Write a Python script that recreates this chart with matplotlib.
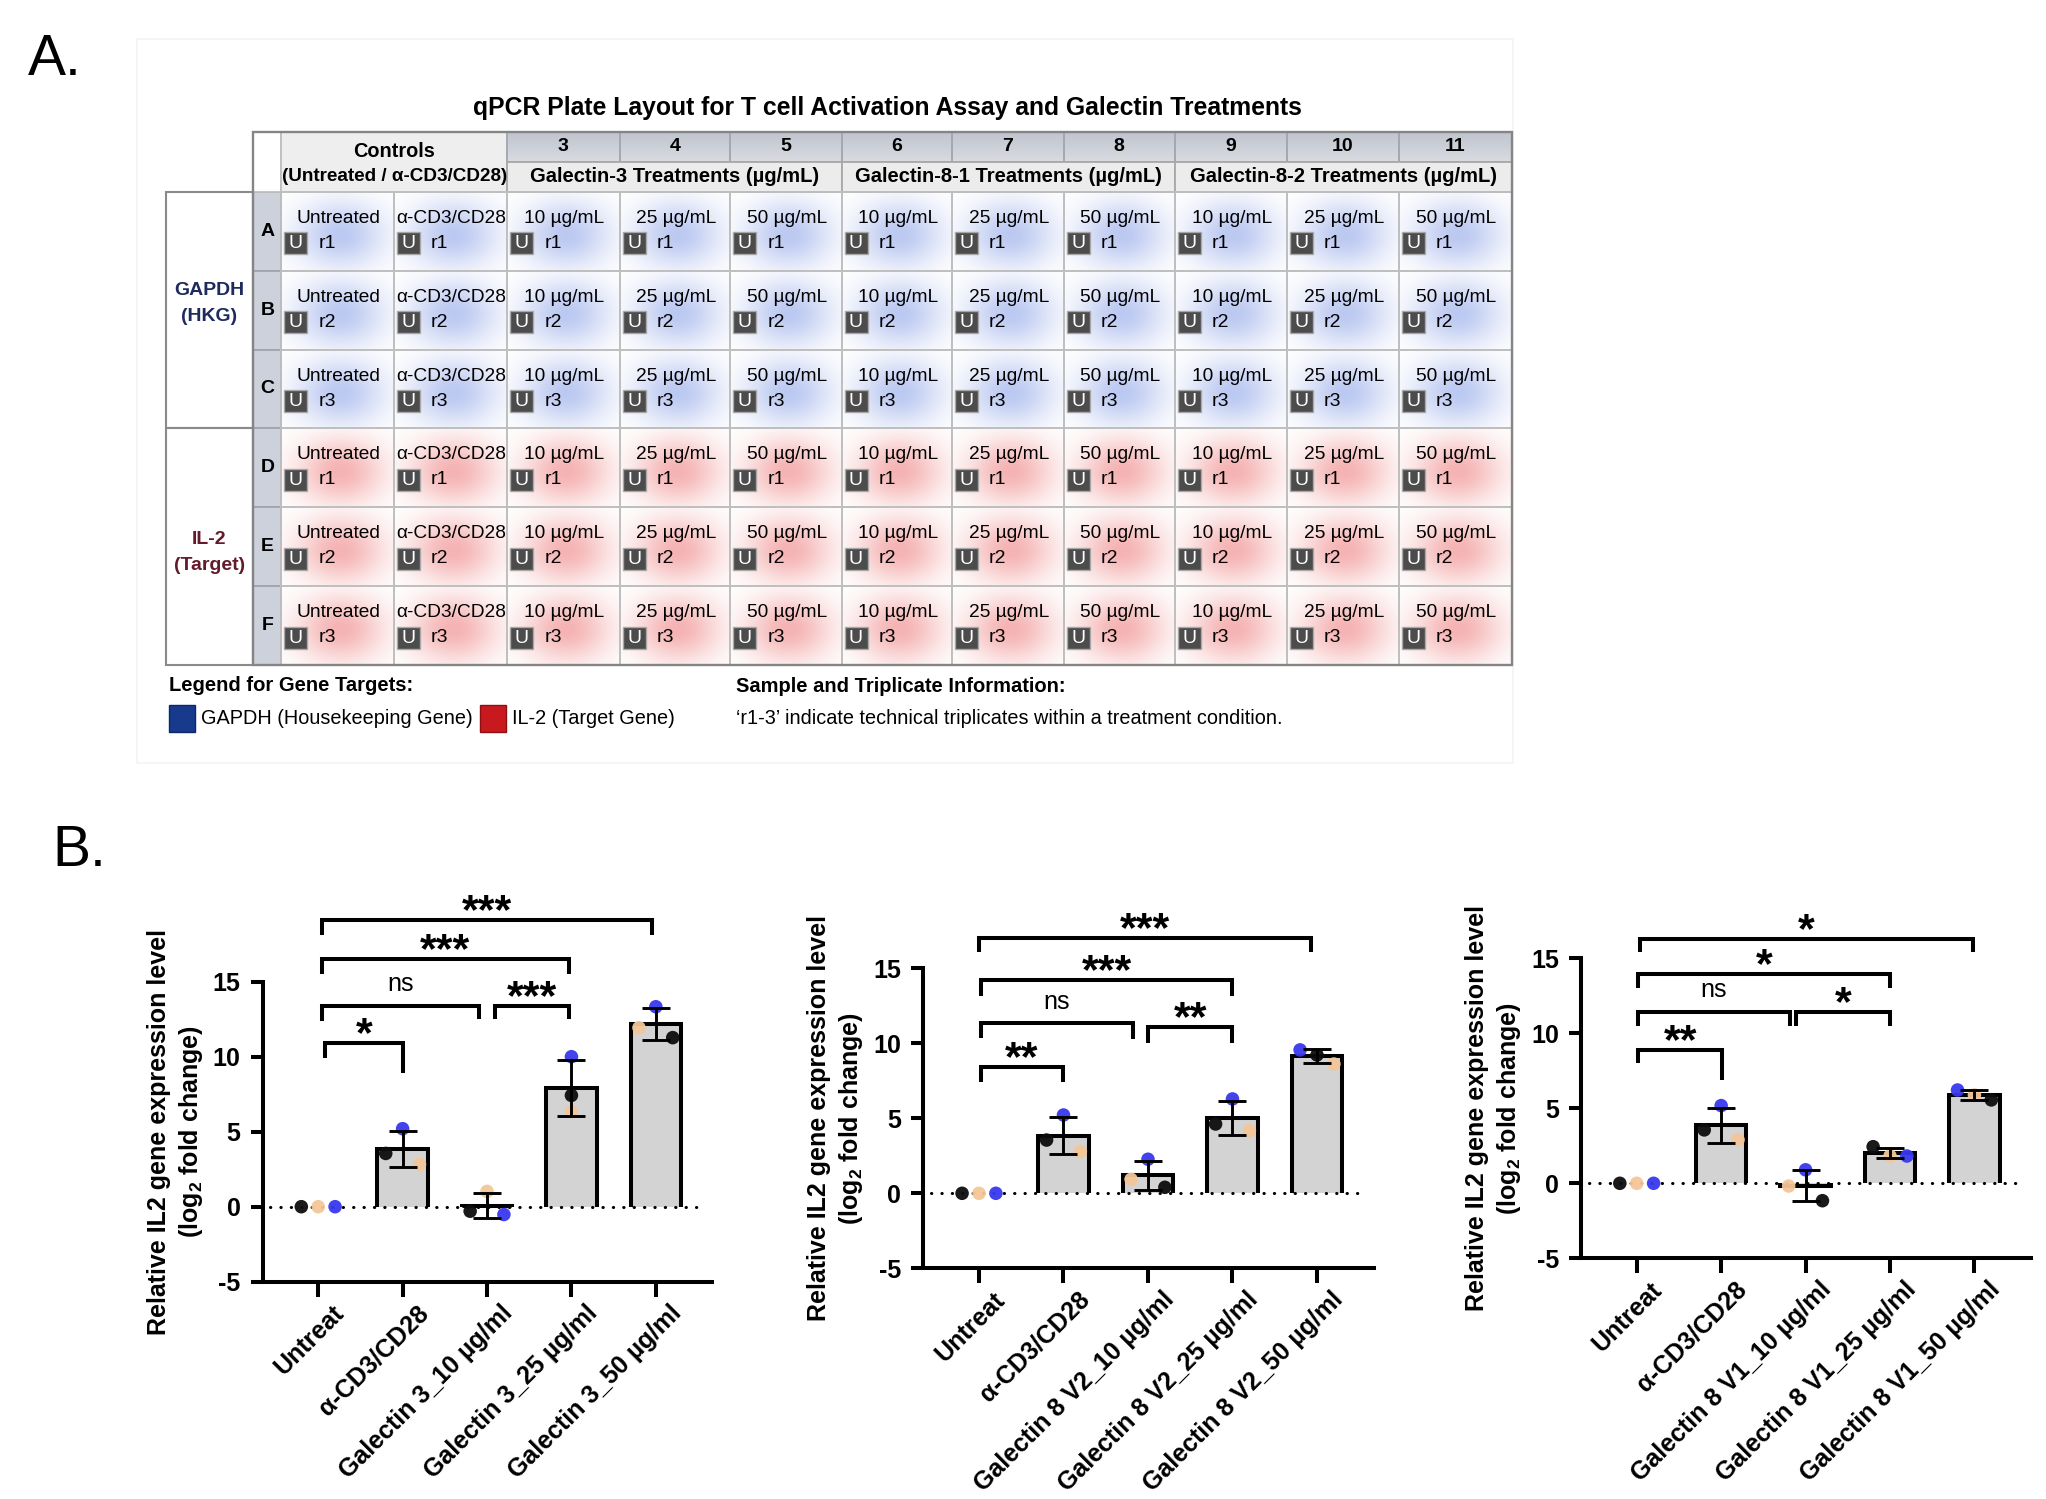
import numpy as np
import matplotlib
matplotlib.use("Agg")
import matplotlib.pyplot as plt
from matplotlib.patches import Rectangle
from matplotlib.transforms import ScaledTranslation

plt.rcParams['font.family'] = ['Liberation Sans', 'DejaVu Sans']
plt.rcParams['mathtext.fontset'] = 'custom'
plt.rcParams['mathtext.rm'] = 'Liberation Sans'
plt.rcParams['mathtext.bf'] = 'Liberation Sans:bold'
plt.rcParams['mathtext.it'] = 'Liberation Sans:italic'

# ---------------- Panel A: plate layout content ----------------
plate_title = "qPCR Plate Layout for T cell Activation Assay and Galectin Treatments"
plate_rows = ["A", "B", "C", "D", "E", "F"]
row_replicates = ["r1", "r2", "r3", "r1", "r2", "r3"]
gene_labels = [("GAPDH", "(HKG)"), ("IL-2", "(Target)")]
control_wells = ["Untreated", "α-CD3/CD28"]
plate_columns = ["3", "4", "5", "6", "7", "8", "9", "10", "11"]
treatment_groups = ["Galectin-3 Treatments (µg/mL)",
                    "Galectin-8-1 Treatments (µg/mL)",
                    "Galectin-8-2 Treatments (µg/mL)"]
doses = ["10 µg/mL", "25 µg/mL", "50 µg/mL"]
controls_header = ("Controls", "(Untreated / α-CD3/CD28)")
legend_title = "Legend for Gene Targets:"
legend_items = ["GAPDH (Housekeeping Gene)", "IL-2 (Target Gene)"]
info_title = "Sample and Triplicate Information:"
info_text = "‘r1-3’ indicate technical triplicates within a treatment condition."

# ---------------- Panel B data ----------------
cats_g3 = ["Untreat", "α-CD3/CD28", "Galectin 3_10 µg/ml",
           "Galectin 3_25 µg/ml", "Galectin 3_50 µg/ml"]
cats_g8v2 = ["Untreat", "α-CD3/CD28", "Galectin 8 V2_10 µg/ml",
             "Galectin 8 V2_25 µg/ml", "Galectin 8 V2_50 µg/ml"]
cats_g8v1 = ["Untreat", "α-CD3/CD28", "Galectin 8 V1_10 µg/ml",
             "Galectin 8 V1_25 µg/ml", "Galectin 8 V1_50 µg/ml"]

# replicate values (log2 fold change): replicate 1 (black), 2 (tan), 3 (blue)
g3_rep1 = [0, 3.55, -0.30, 7.42, 11.27]
g3_rep2 = [0, 2.82, 1.02, 6.33, 11.93]
g3_rep3 = [0, 5.20, -0.52, 10.00, 13.33]

g8v2_rep1 = [0, 3.55, 0.40, 4.62, 9.22]
g8v2_rep2 = [0, 2.78, 0.93, 4.18, 8.62]
g8v2_rep3 = [0, 5.22, 2.27, 6.29, 9.56]

g8v1_rep1 = [0, 3.56, -1.16, 2.44, 5.56]
g8v1_rep2 = [0, 2.90, -0.18, 1.82, 5.89]
g8v1_rep3 = [0, 5.18, 0.90, 1.82, 6.22]

# significance comparisons (group i, group j, label)
g3_tests = [(0, 1, "*"), (0, 2, "ns"), (2, 3, "***"), (0, 3, "***"), (0, 4, "***")]
g8v2_tests = [(0, 1, "**"), (0, 2, "ns"), (2, 3, "**"), (0, 3, "***"), (0, 4, "***")]
g8v1_tests = [(0, 1, "**"), (0, 2, "ns"), (2, 3, "*"), (0, 3, "*"), (0, 4, "*")]

# ---------------- styling / layout (not data) ----------------
rep_colors = ["#0d0d0d", "#f4c698", "#3838ee"]
# horizontal dodge slots of each replicate dot (swarm placement)
g3_slots = [[-1, -1, -1, 0, 1], [0, 1, 0, 0, -1], [1, 0, 1, 0, 0]]
g8v2_slots = [[-1, -1, 1, -1, 0], [0, 1, -1, 1, 1], [1, 0, 0, 0, -1]]
g8v1_slots = [[-1, -1, 1, -1, 1], [0, 1, -1, 0, 0], [1, 0, 0, 1, -1]]
# bracket geometry: (x_left, x_right, y_bar, y_left_end, y_right_end)
g3_brackets = [(0.08, 1.0, 10.9, 9.9, 8.9), (0.04, 1.9, 13.4, 12.4, 12.5),
               (2.1, 2.97, 13.4, 12.5, 12.5), (0.04, 2.97, 16.5, 15.5, 15.5),
               (0.04, 3.96, 19.1, 18.1, 18.1)]
g8v2_brackets = [(0.02, 1.0, 8.4, 7.45, 7.45), (0.02, 1.82, 11.33, 10.33, 10.3),
                 (2.0, 3.0, 11.1, 10.05, 10.05), (0.02, 3.0, 14.2, 13.15, 13.15),
                 (0.0, 3.93, 17.0, 16.1, 16.1)]
g8v1_brackets = [(0.02, 1.01, 8.9, 8.0, 6.9), (0.02, 1.81, 11.45, 10.5, 10.5),
                 (1.89, 3.0, 11.45, 10.5, 10.5), (0.02, 3.0, 13.95, 13.0, 13.0),
                 (0.04, 3.98, 16.3, 15.45, 15.45)]

W, H = 2046, 1499
fig = plt.figure(figsize=(W / 100, H / 100), dpi=100)
cv = fig.add_axes([0, 0, 1, 1])
cv.set_xlim(0, W)
cv.set_ylim(H, 0)
cv.axis('off')

# ---------------- Panel A drawing ----------------
cv.text(28, 75, "A.", fontsize=41, va='baseline', ha='left')
cv.add_patch(Rectangle((137, 39), 1376, 724, fill=False, ec='#f3f3f3', lw=1.2, zorder=0))
cv.text(887, 108, plate_title, fontsize=17.8, fontweight='bold', ha='center', va='center')

col_edges = [281.3, 393.6, 507.3, 619.6, 730.3, 841.5, 952.0, 1064.0,
             1174.6, 1286.8, 1398.7, 1512.0]
gene_x0, letter_x0 = 165.5, 253.3
hdr_y = [131.7, 161.7, 191.7]
row_h = 78.9
row_edges = [191.7 + k * row_h for k in range(7)]
grid_c = '#bfbfbf'

# soft well colouring
x0t, x1t = col_edges[0], col_edges[-1]
y0t, y1t = row_edges[0], row_edges[-1]
nx, ny = int(x1t - x0t), int(y1t - y0t)
X, Y = np.meshgrid(np.linspace(x0t, x1t, nx), np.linspace(y0t, y1t, ny))
rgba = np.ones((ny, nx, 4))
rgba[..., 3] = 0
blue_c = np.array([0.70, 0.76, 0.94])
red_c = np.array([0.96, 0.66, 0.66])
for r in range(6):
    colr = blue_c if r < 3 else red_c
    for c in range(11):
        xa, xb = col_edges[c], col_edges[c + 1]
        ya, yb = row_edges[r], row_edges[r + 1]
        cx, cy = (xa + xb) / 2 + 3, (ya + yb) / 2 + 4
        sx, sy = 0.27 * (xb - xa), 0.29 * row_h
        m = (X >= xa) & (X < xb) & (Y >= ya) & (Y < yb)
        g = np.exp(-0.5 * (((X - cx) / sx) ** 2 + ((Y - cy) / sy) ** 2))
        rgba[m, :3] = colr
        rgba[m, 3] = 0.88 * g[m]
cv.imshow(rgba, extent=(x0t, x1t, y1t, y0t), origin='upper', aspect='auto',
          interpolation='bilinear', zorder=1)
cv.set_xlim(0, W)
cv.set_ylim(H, 0)


def box(x0, y0, x1, y1, fc='none', ec=grid_c, lw=1.3, z=2):
    cv.add_patch(Rectangle((x0, y0), x1 - x0, y1 - y0, fc=fc, ec=ec, lw=lw, zorder=z))


# header cells
box(letter_x0, hdr_y[0], col_edges[0], hdr_y[2], fc='white')
box(col_edges[0], hdr_y[0], col_edges[2], hdr_y[2], fc='#eeeeee')
cv.text((col_edges[0] + col_edges[2]) / 2, 151.7, controls_header[0], fontsize=14.3,
        fontweight='bold', ha='center', va='center', zorder=5)
cv.text((col_edges[0] + col_edges[2]) / 2, 176.7, controls_header[1], fontsize=13.6,
        fontweight='bold', ha='center', va='center', zorder=5)
grad = np.linspace(0, 1, 30)[:, None, None] * np.array([0.10, 0.09, 0.07]) + np.array([0.75, 0.77, 0.81])
cv.imshow(np.repeat(grad, 4, axis=1), extent=(col_edges[2], col_edges[-1], hdr_y[1], hdr_y[0]),
          origin='upper', aspect='auto', zorder=1.5)
cv.set_xlim(0, W)
cv.set_ylim(H, 0)
for k, lab in enumerate(plate_columns):
    xa, xb = col_edges[2 + k], col_edges[3 + k]
    box(xa, hdr_y[0], xb, hdr_y[1], ec='#a4a8b2')
    cv.text((xa + xb) / 2, (hdr_y[0] + hdr_y[1]) / 2, lab, fontsize=14, fontweight='bold',
            ha='center', va='center', zorder=5)
for gi, lab in enumerate(treatment_groups):
    xa, xb = col_edges[2 + 3 * gi], col_edges[5 + 3 * gi]
    box(xa, hdr_y[1], xb, hdr_y[2], fc='#ececec', ec='#a8a8a8')
    cv.text((xa + xb) / 2, (hdr_y[1] + hdr_y[2]) / 2, lab, fontsize=14.5, fontweight='bold',
            ha='center', va='center', zorder=5)

# gene label boxes
for gi, (l1, l2) in enumerate(gene_labels):
    ya, yb = row_edges[3 * gi], row_edges[3 * gi + 3]
    box(gene_x0, ya, letter_x0, yb, fc='white', ec='#8a8a8a', lw=1.5)
    colr = '#1e2b5c' if gi == 0 else '#641a2a'
    yc = (ya + yb) / 2 + (-7 if gi == 0 else 6)
    cv.text((gene_x0 + letter_x0) / 2, yc - 13, l1, fontsize=14, fontweight='bold',
            color=colr, ha='center', va='center', zorder=5)
    cv.text((gene_x0 + letter_x0) / 2, yc + 13, l2, fontsize=14, fontweight='bold',
            color=colr, ha='center', va='center', zorder=5)

# row letters and wells
for r, rl in enumerate(plate_rows):
    ya, yb = row_edges[r], row_edges[r + 1]
    box(letter_x0, ya, col_edges[0], yb, fc='#ccd1dc', ec='#a0a4ae', z=1.8)
    cv.text((letter_x0 + col_edges[0]) / 2, (ya + yb) / 2, rl, fontsize=14, fontweight='bold',
            ha='center', va='center', zorder=5)
    for c in range(11):
        xa, xb = col_edges[c], col_edges[c + 1]
        box(xa, ya, xb, yb)
        top = control_wells[c] if c < 2 else doses[(c - 2) % 3]
        cv.text((xa + xb) / 2 + 1, ya + 26.5, top, fontsize=13.8, ha='center', va='center',
                zorder=5)
        cv.add_patch(Rectangle((xa + 3, ya + 40.5), 23, 22, fc='#4c4c4c', ec='#a8a8a8',
                               lw=1.0, zorder=4))
        cv.text(xa + 14.5, ya + 51.8, "U", fontsize=14, color='white', ha='center',
                va='center', zorder=5)
        cv.text(xa + 37, ya + 51.5, row_replicates[r], fontsize=14, ha='left',
                va='center', zorder=5)

# outer frame
box(letter_x0, hdr_y[0], col_edges[-1], row_edges[-1], ec='#858585', lw=1.7, z=3)

# legend
cv.text(169, 685, legend_title, fontsize=14.5, fontweight='bold', ha='left', va='center')
cv.add_patch(Rectangle((169, 705), 26, 27, fc='#173a8c', ec='#0e2766', lw=1))
cv.text(201, 718, legend_items[0], fontsize=14.3, ha='left', va='center')
cv.add_patch(Rectangle((480, 705), 26, 27, fc='#c8191f', ec='#8e1014', lw=1))
cv.text(512, 718, legend_items[1], fontsize=14.3, ha='left', va='center')
cv.text(736, 686, info_title, fontsize=14.5, fontweight='bold', ha='left', va='center')
cv.text(736, 718, info_text, fontsize=14.3, ha='left', va='center')

# ---------------- Panel B ----------------
cv.text(52, 866, "B.", fontsize=41, va='baseline', ha='left')


def px_rect(l, t, r, b):
    return [l / W, 1 - b / H, (r - l) / W, (b - t) / H]


def draw_chart(rect, cats, reps, slots, tests, brackets):
    ax = fig.add_axes(rect)
    ax.set_xlim(-0.66, 4.67)
    ax.set_ylim(-5, 15)
    xs = np.arange(len(cats))
    vals = np.array(reps, dtype=float)
    means = vals.mean(axis=0)
    sds = vals.std(axis=0, ddof=1)
    show = (np.abs(means) > 1e-9) | (sds > 1e-9)
    bw = 0.6
    # bar fill, then an outline open at the baseline (GraphPad style)
    ax.bar(xs[show], means[show], width=bw, color='#d3d3d3', edgecolor='none', zorder=2)
    for xc, mv in zip(xs[show], means[show]):
        ax.plot([xc - bw / 2, xc - bw / 2, xc + bw / 2, xc + bw / 2], [0, mv, mv, 0],
                color='black', lw=2.9, solid_joinstyle='miter', solid_capstyle='butt',
                zorder=3.5)
    ax.axhline(0, xmin=0.017, xmax=0.985, color='black', lw=2.2,
               linestyle=(0, (0.1, 3.3)), dash_capstyle='round', zorder=2.5)
    for k in range(3):
        ax.scatter(xs + 0.2 * np.array(slots[k]), vals[k], s=95, color=rep_colors[k],
                   edgecolors='none', zorder=4, alpha=0.95, clip_on=False)
    ax.errorbar(xs[show], means[show], yerr=sds[show], fmt='none', ecolor='black',
                elinewidth=2.1, capsize=10, capthick=2.1, zorder=5)
    for (i, j, lab), (xl, xr, yb, yl, yr) in zip(tests, brackets):
        ax.plot([xl, xl, xr, xr], [yl, yb, yb, yr], color='black', lw=2.9,
                clip_on=False, solid_joinstyle='miter', solid_capstyle='butt', zorder=5)
        if lab == 'ns':
            ax.annotate(lab, xy=((xl + xr) / 2, yb), xytext=(0, 10.5),
                        textcoords='offset points', ha='center', va='baseline',
                        fontsize=18, annotation_clip=False)
        else:
            ax.annotate(lab, xy=((xl + xr) / 2, yb), xytext=(0, -2.2),
                        textcoords='offset points', ha='center', va='baseline',
                        fontsize=31, fontweight='bold', annotation_clip=False)
    for s in ['top', 'right']:
        ax.spines[s].set_visible(False)
    for s in ['left', 'bottom']:
        ax.spines[s].set_linewidth(2.9)
        ax.spines[s].set_capstyle('projecting')
    ax.set_yticks([-5, 0, 5, 10, 15])
    ax.set_yticklabels(['-5', '0', '5', '10', '15'], fontsize=18, fontweight='bold')
    ax.tick_params(axis='y', length=8.3, width=2.9, pad=7.5)
    ax.set_xticks(xs)
    ax.set_xticklabels(cats, rotation=45, ha='right', va='center', rotation_mode='anchor',
                       fontsize=18, fontweight='bold')
    ax.tick_params(axis='x', length=11, width=2.9, pad=9)
    off = ScaledTranslation(0.22, 0, fig.dpi_scale_trans)
    for lbl in ax.get_xticklabels():
        lbl.set_transform(lbl.get_transform() + off)
    ax.text(-0.193, 0.5, "Relative IL2 gene expression level\n(log$_\\mathbf{2}$ fold change)",
            transform=ax.transAxes, rotation=90, ha='center', va='center', fontsize=18,
            fontweight='bold', linespacing=1.3, multialignment='center')
    ax.patch.set_alpha(0)
    return ax


draw_chart(px_rect(262.5, 981.7, 712.4, 1281.7), cats_g3,
           [g3_rep1, g3_rep2, g3_rep3], g3_slots, g3_tests, g3_brackets)
draw_chart(px_rect(923.2, 968.3, 1373.6, 1268.3), cats_g8v2,
           [g8v2_rep1, g8v2_rep2, g8v2_rep3], g8v2_slots, g8v2_tests, g8v2_brackets)
draw_chart(px_rect(1581.0, 958.3, 2031.0, 1258.3), cats_g8v1,
           [g8v1_rep1, g8v1_rep2, g8v1_rep3], g8v1_slots, g8v1_tests, g8v1_brackets)

fig.savefig("out.png", dpi=100, facecolor='white')
